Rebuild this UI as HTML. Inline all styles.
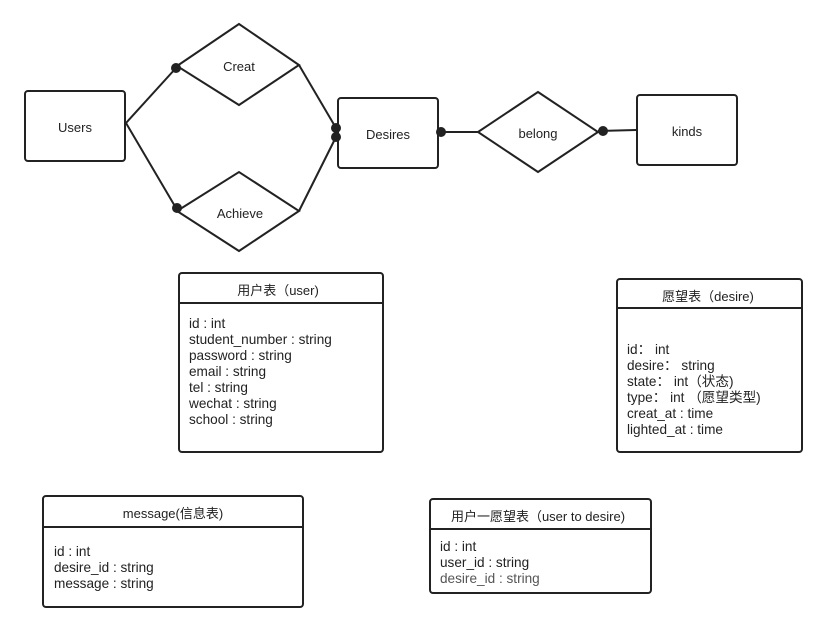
<!DOCTYPE html>
<html><head><meta charset="utf-8"><style>
html,body{margin:0;padding:0;background:#fff;}
svg{display:block;}
text{font-family:"Liberation Sans","Noto Sans CJK SC",sans-serif;font-size:13px;fill:#222;}
text.b{font-size:13.6px;}
</style></head><body>
<svg width="827" height="632" viewBox="0 0 827 632" xmlns="http://www.w3.org/2000/svg">
<g fill="none" stroke="#222" stroke-width="2">
<rect x="25" y="91" width="100" height="70" rx="3"/>
<rect x="338" y="98" width="100" height="70" rx="3"/>
<rect x="637" y="95" width="100" height="70" rx="3"/>
<polygon points="177,66 239,24 299,65 239,105"/>
<polygon points="177,211 239,172 299,211 239,251"/>
<polygon points="478,132 538,92 598,132 538,172"/>
<polyline points="176,68 126,123 176,208"/>
<line x1="299" y1="65" x2="336" y2="128"/>
<line x1="299" y1="211" x2="336" y2="137"/>
<line x1="441" y1="132" x2="478" y2="132"/>
<line x1="598" y1="131" x2="637" y2="130"/>
<rect x="179" y="273" width="204" height="179" rx="3"/>
<line x1="179" y1="303" x2="383" y2="303"/>
<rect x="617" y="279" width="185" height="173" rx="3"/>
<line x1="617" y1="308" x2="802" y2="308"/>
<rect x="43" y="496" width="260" height="111" rx="3"/>
<line x1="43" y1="527" x2="303" y2="527"/>
<rect x="430" y="499" width="221" height="94" rx="3"/>
<line x1="430" y1="529" x2="651" y2="529"/>
</g>
<g fill="#222">
<circle cx="176" cy="68" r="5"/><circle cx="177" cy="208" r="5"/>
<circle cx="336" cy="128" r="5"/><circle cx="336" cy="137" r="5"/>
<circle cx="441" cy="132" r="5"/><circle cx="603" cy="131" r="5"/>
</g>
<g text-anchor="middle">
<text x="75" y="132">Users</text>
<text x="388" y="139">Desires</text>
<text x="687" y="136">kinds</text>
<text x="239" y="71">Creat</text>
<text x="240" y="218">Achieve</text>
<text x="538" y="138">belong</text>
<text x="278" y="295">用户表（user)</text>
<text x="708" y="301">愿望表（desire)</text>
<text x="173" y="518">message(信息表)</text>
<text x="538" y="521">用户一愿望表（user to desire)</text>
</g>
<g class="b">
<text class="b" x="189" y="328">id : int</text>
<text class="b" x="189" y="344">student_number : string</text>
<text class="b" x="189" y="360">password : string</text>
<text class="b" x="189" y="376">email : string</text>
<text class="b" x="189" y="392">tel : string</text>
<text class="b" x="189" y="408">wechat : string</text>
<text class="b" x="189" y="424">school : string</text>
<text class="b" x="627" y="354">id： int</text>
<text class="b" x="627" y="370">desire： string</text>
<text class="b" x="627" y="386">state： int（状态)</text>
<text class="b" x="627" y="402">type： int （愿望类型)</text>
<text class="b" x="627" y="418">creat_at : time</text>
<text class="b" x="627" y="434">lighted_at : time</text>
<text class="b" x="54" y="556">id : int</text>
<text class="b" x="54" y="572">desire_id : string</text>
<text class="b" x="54" y="588">message : string</text>
<text class="b" x="440" y="551">id : int</text>
<text class="b" x="440" y="567">user_id : string</text>
<text class="b" x="440" y="583" style="fill:#555">desire_id : string</text>
</g>
</svg>
</body></html>
